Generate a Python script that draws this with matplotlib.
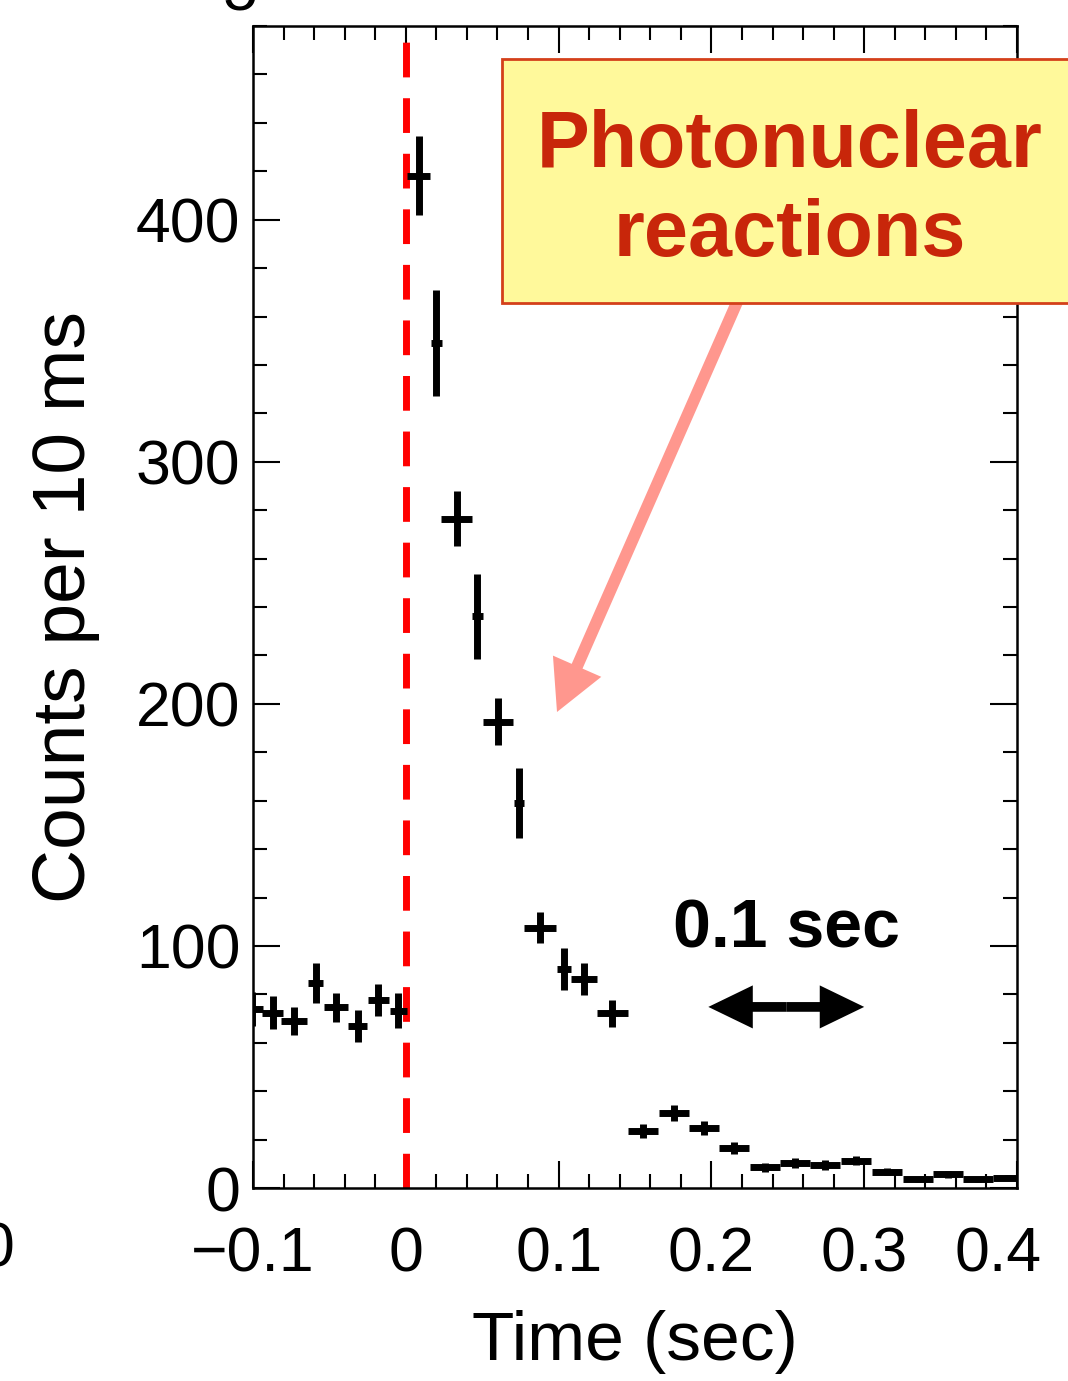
"""
Light curve with photonuclear-reaction annotation, recreated with matplotlib.
"""
import matplotlib

matplotlib.use("Agg")
import matplotlib.pyplot as plt
from matplotlib.patches import Rectangle, FancyArrowPatch
from matplotlib.ticker import MultipleLocator
from matplotlib.transforms import ScaledTranslation

plt.rcParams["font.family"] = ["Liberation Sans", "DejaVu Sans"]

# bin centres (sec), counts, half-widths and errors
time_s = [-0.1005, -0.0871, -0.0730, -0.0588, -0.0458, -0.0316, -0.0181, -0.0050,
          0.0085, 0.0198, 0.0333, 0.0469, 0.0603, 0.0741, 0.0878, 0.1035, 0.1165,
          0.1351, 0.1551, 0.1754, 0.1954, 0.2150, 0.2353, 0.2549, 0.2745, 0.2948,
          0.3150, 0.3350, 0.3549, 0.3745, 0.3941]
counts = [74.0, 72.4, 69.0, 84.6, 74.7, 66.9, 77.7, 73.3,
          418.2, 349.0, 276.5, 236.1, 192.7, 159.0, 107.6, 90.4, 86.3,
          72.2, 23.5, 30.9, 24.7, 16.7, 8.5, 10.2, 9.5, 11.3,
          6.7, 3.6, 5.6, 3.6, 4.2]
half_width = [0.0068, 0.0068, 0.0085, 0.0049, 0.0080, 0.0065, 0.0069, 0.0056,
              0.0076, 0.0036, 0.0100, 0.0034, 0.0100, 0.0034, 0.0107, 0.0046, 0.0087,
              0.0100, 0.0099, 0.0099, 0.0099, 0.0099, 0.0099, 0.0099, 0.0099, 0.0099,
              0.0099, 0.0099, 0.0099, 0.0099, 0.0099]
count_err = [7.0, 6.8, 5.7, 8.3, 6.0, 6.5, 6.5, 7.2,
             16.2, 21.9, 11.4, 17.5, 9.6, 14.5, 6.5, 8.8, 6.5,
             5.5, 3.0, 3.4, 3.0, 2.5, 2.0, 2.0, 2.0, 2.0,
             1.5, 1.0, 1.5, 1.0, 1.0]

x_ticks = [-0.1, 0, 0.1, 0.2, 0.3, 0.4]
x_ticklabels = ["\u22120.1", "0", "0.1", "0.2", "0.3", "0.4"]

W, H = 1068, 1381
fig = plt.figure(figsize=(W / 100, H / 100), dpi=100)
ax = fig.add_axes([253 / W, 1 - 1188 / H, (1017 - 253) / W, (1188 - 26) / H])

ax.errorbar(time_s, counts, xerr=half_width, yerr=count_err, fmt="none",
            ecolor="black", elinewidth=5, capsize=0, zorder=3)

# trigger time
trig, = ax.plot([0, 0], [0, 476.4], color="#FF0000", linewidth=5,
                solid_capstyle="butt", zorder=2, clip_on=False)
trig.set_dashes((5, 3))
trig.set_dash_capstyle("butt")

ax.set_xlim(-0.1, 0.4)
ax.set_ylim(0, 480)
ax.xaxis.set_minor_locator(MultipleLocator(0.02))
ax.yaxis.set_major_locator(MultipleLocator(100))
ax.yaxis.set_minor_locator(MultipleLocator(20))
ax.set_xticks(x_ticks)
ax.set_xticklabels(x_ticklabels)

ax.tick_params(which="both", direction="in", top=True, right=True, width=1.5)
ax.tick_params(which="major", length=19.5)
ax.tick_params(which="minor", length=10)
ax.tick_params(axis="x", which="major", labelsize=45, pad=27)
ax.tick_params(axis="y", which="major", labelsize=45, pad=9)
for sp in ax.spines.values():
    sp.set_linewidth(1.8)

# last x label sits a bit inside the right edge, as in the source
last = ax.get_xticklabels()[-1]
last.set_transform(last.get_transform() + ScaledTranslation(-0.19, 0, fig.dpi_scale_trans))

ax.set_xlabel("Time (sec)", fontsize=50)
ax.xaxis.set_label_coords(0.5, -0.105)
ax.set_ylabel("Counts per 10 ms", fontsize=54)
ax.yaxis.set_label_coords(-0.2, 0.5)

# 0.1 sec scale bar
ax.text(0.249, 99.2, "0.1 sec", fontsize=49, fontweight="bold",
        ha="center", va="baseline")
for tip in (0.198, 0.300):
    ax.add_patch(FancyArrowPatch(
        (0.249, 74.8), (tip, 74.8),
        arrowstyle="simple,head_length=32,head_width=31,tail_width=7",
        mutation_scale=1, shrinkA=0, shrinkB=0,
        color="black", linewidth=0))

# annotation box (runs off the right edge, as in the source panel)
fig.add_artist(FancyArrowPatch(
    (738 / W, 1 - 300 / H), (557 / W, 1 - 712 / H),
    transform=fig.transFigure,
    arrowstyle="simple,head_length=36,head_width=38,tail_width=8.5",
    mutation_scale=1, shrinkA=0, shrinkB=0,
    color="#FF978E", linewidth=0, zorder=4))
fig.add_artist(Rectangle((502 / W, 1 - 303 / H), 620 / W, 244 / H,
                         transform=fig.transFigure, facecolor="#FFF99B",
                         edgecolor="#D4401A", linewidth=2, zorder=5))
fig.text(790 / W, 1 - 167 / H, "Photonuclear", fontsize=57, fontweight="bold",
         color="#C8260A", ha="center", va="baseline", zorder=6)
fig.text(790 / W, 1 - 256 / H, "reactions", fontsize=57, fontweight="bold",
         color="#C8260A", ha="center", va="baseline", zorder=6)

# fragments of neighbouring panels at the edges of the crop
fig.text(-3 / W, 1 - 1250 / H, "0", fontsize=45, ha="center", va="center")
fig.text(240 / W, 1 - 10 / H, "5", fontsize=45, ha="center", va="baseline")

fig.savefig("out.png", dpi=100)
